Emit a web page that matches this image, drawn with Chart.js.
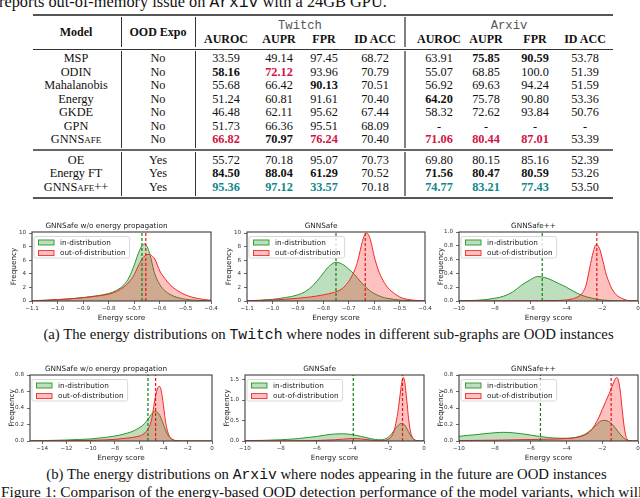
<!DOCTYPE html>
<html><head><meta charset="utf-8">
<script src="https://cdn.jsdelivr.net/npm/chart.js@4.4.1/dist/chart.umd.min.js"></script>
<style>
html,body{margin:0;padding:0;background:#fff;overflow:hidden;width:640px;height:498px;}
#page{position:relative;width:640px;height:498px;overflow:hidden;background:#fff;}
.t{position:absolute;white-space:nowrap;line-height:1;transform:translate(-50%,-50%);font-family:"Liberation Serif","Times New Roman",serif;color:#111;}
.l{transform:translate(0,-50%);}
.mono{font-family:"Liberation Mono","DejaVu Sans Mono",monospace;}
.sc{font-variant:small-caps;}
.rule{position:absolute;}
canvas{position:absolute;}
</style></head><body><div id="page"></div>
<script>
// ---------------- table data ----------------
const models = ['MSP','ODIN','Mahalanobis','Energy','GKDE','GPN','GNNSafe','OE','Energy FT','GNNSafe++'];
const oodExpo = ['No','No','No','No','No','No','No','Yes','Yes','Yes'];
const metricHeaders = ['AUROC','AUPR','FPR','ID ACC'];
const datasetNames = ['Twitch','Arxiv'];
const twitchAUROC = [33.59,58.16,55.68,51.24,46.48,51.73,66.82,55.72,84.50,95.36];
const twitchAUPR  = [49.14,72.12,66.42,60.81,62.11,66.36,70.97,70.18,88.04,97.12];
const twitchFPR   = [97.45,93.96,90.13,91.61,95.62,95.51,76.24,95.07,61.29,33.57];
const twitchIDACC = [68.72,70.79,70.51,70.40,67.44,68.09,70.40,70.73,70.52,70.18];
const arxivAUROC  = [63.91,55.07,56.92,64.20,58.32,null,71.06,69.80,71.56,74.77];
const arxivAUPR   = [75.85,68.85,69.63,75.78,72.62,null,80.44,80.15,80.47,83.21];
const arxivFPR    = [90.59,100.0,94.24,90.80,93.84,null,87.01,85.16,80.59,77.43];
const arxivIDACC  = [53.78,51.39,51.59,53.36,50.76,null,53.39,52.39,53.26,53.50];

// ---------------- density data ----------------
// Twitch, GNNSafe w/o energy propagation
const twNoPropX   = [-1.10,-1.05,-1.00,-0.95,-0.90,-0.85,-0.80,-0.77,-0.74,-0.72,-0.70,-0.69,-0.68,-0.67,-0.66,-0.65,-0.64,-0.63,-0.62,-0.60,-0.58,-0.56,-0.53,-0.50,-0.45,-0.40];
const twNoPropID  = [0.05,0.10,0.20,0.32,0.50,0.75,1.10,1.55,2.40,3.50,5.30,6.40,7.40,8.10,8.40,8.00,7.00,5.50,4.00,2.40,1.50,0.95,0.50,0.25,0.08,0.02];
const twNoPropOOD = [0.05,0.10,0.20,0.32,0.48,0.70,1.00,1.40,2.10,2.80,3.90,4.70,5.50,6.15,6.60,6.85,6.85,6.60,6.20,4.40,3.30,2.40,1.50,0.90,0.35,0.10];
const twNoPropMeans = [-0.670,-0.655];
// Twitch, GNNSafe
const twSafeIDX  = [-1.10,-1.05,-1.00,-0.95,-0.90,-0.87,-0.84,-0.81,-0.78,-0.75,-0.72,-0.70,-0.68,-0.65,-0.62,-0.60,-0.57,-0.55,-0.50,-0.45,-0.40];
const twSafeID   = [0.05,0.10,0.25,0.50,0.90,1.40,2.30,3.60,5.00,5.70,5.30,4.70,4.00,2.70,1.60,1.10,0.60,0.40,0.15,0.05,0.02];
const twSafeOODX = [-1.10,-1.00,-0.90,-0.85,-0.80,-0.76,-0.73,-0.71,-0.69,-0.67,-0.66,-0.65,-0.64,-0.63,-0.62,-0.61,-0.60,-0.58,-0.56,-0.54,-0.52,-0.50,-0.47,-0.44,-0.40];
const twSafeOOD  = [0.05,0.15,0.40,0.60,0.90,1.25,1.70,2.40,3.50,5.20,6.60,8.20,9.50,9.95,9.60,8.30,6.60,4.20,2.70,1.70,1.10,0.60,0.25,0.10,0.03];
const twSafeMeans = [-0.750,-0.635];
// Twitch, GNNSafe++
const twPPIDX  = [-10,-9,-8.5,-8,-7.5,-7,-6.5,-6,-5.6,-5.2,-4.8,-4.4,-4,-3.6,-3.2,-2.8,-2.4,-2,-1.5,-1,0];
const twPPID   = [0.005,0.01,0.02,0.04,0.07,0.13,0.23,0.31,0.355,0.34,0.30,0.25,0.20,0.14,0.09,0.055,0.03,0.015,0.005,0.002,0];
const twPPOODX = [-10,-6,-4.5,-4,-3.6,-3.3,-3.1,-2.9,-2.7,-2.5,-2.33,-2.15,-1.96,-1.77,-1.6,-1.49,-1.21,-0.84,-0.47,0];
const twPPOOD  = [0.002,0.004,0.008,0.015,0.035,0.07,0.12,0.23,0.48,0.71,0.82,0.76,0.58,0.38,0.26,0.19,0.09,0.03,0.005,0.002];
const twPPMeans = [-5.35,-2.3];
// Arxiv, GNNSafe w/o energy propagation
const axNoPropIDX  = [-15,-14,-13,-12,-11,-10,-9,-8,-7.5,-7,-6.5,-6,-5.7,-5.4,-5.1,-4.9,-4.7,-4.5,-4.3,-4.1,-3.9,-3.7,-3.5,-3.2,-3,-2.5,-2,0];
const axNoPropID   = [0.003,0.005,0.008,0.012,0.018,0.025,0.04,0.06,0.075,0.095,0.12,0.16,0.19,0.24,0.30,0.34,0.36,0.35,0.31,0.24,0.16,0.09,0.045,0.015,0.006,0.001,0,0];
const axNoPropOODX = [-15,-12,-10,-8,-7,-6.5,-6,-5.6,-5.3,-5.1,-4.95,-4.8,-4.65,-4.5,-4.4,-4.3,-4.2,-4.1,-4.0,-3.9,-3.8,-3.6,-3.4,-3.2,-3,-2.5,0];
const axNoPropOOD  = [0.001,0.003,0.008,0.02,0.035,0.045,0.06,0.09,0.14,0.20,0.28,0.42,0.55,0.63,0.66,0.66,0.62,0.54,0.43,0.31,0.21,0.09,0.035,0.012,0.004,0,0];
const axNoPropMeans = [-5.28,-4.65];
// Arxiv, GNNSafe
const axSafeIDX  = [-10,-9,-8,-7,-6.5,-6,-5.5,-5,-4.5,-4,-3.5,-3,-2.7,-2.4,-2.2,-2,-1.8,-1.6,-1.4,-1.25,-1.1,-0.95,-0.8,-0.65,-0.5,-0.3,0];
const axSafeID   = [0.01,0.015,0.03,0.06,0.085,0.11,0.145,0.17,0.175,0.155,0.11,0.06,0.035,0.03,0.045,0.09,0.18,0.30,0.40,0.43,0.40,0.30,0.17,0.07,0.02,0.004,0];
const axSafeOODX = [-10,-8,-6,-5,-4.5,-4,-3.5,-3,-2.6,-2.3,-2.0,-1.8,-1.65,-1.5,-1.4,-1.3,-1.22,-1.15,-1.08,-1.0,-0.92,-0.85,-0.75,-0.6,-0.45,-0.3,0];
const axSafeOOD  = [0.002,0.004,0.012,0.03,0.045,0.06,0.05,0.025,0.008,0.01,0.04,0.12,0.28,0.60,0.90,1.25,1.48,1.55,1.45,1.15,0.80,0.50,0.22,0.06,0.012,0.002,0];
const axSafeMeans = [-3.95,-1.2];
// Arxiv, GNNSafe++
const axPPIDX  = [-10,-9.5,-9,-8.5,-8,-7.5,-7,-6.5,-6,-5.5,-5,-4.5,-4,-3.6,-3.2,-2.9,-2.6,-2.3,-2.05,-1.85,-1.6,-1.35,-1.1,-0.9,-0.7,-0.5,-0.3,0];
const axPPID   = [0.057,0.068,0.078,0.09,0.10,0.105,0.10,0.088,0.072,0.055,0.042,0.034,0.033,0.040,0.06,0.09,0.14,0.20,0.245,0.25,0.23,0.18,0.11,0.06,0.02,0.005,0.001,0];
const axPPOODX = [-10,-8,-6,-5,-4,-3.5,-3,-2.7,-2.4,-2.2,-2,-1.8,-1.6,-1.45,-1.3,-1.2,-1.1,-1,-0.9,-0.8,-0.7,-0.6,-0.5,-0.3,0];
const axPPOOD  = [0.005,0.01,0.018,0.022,0.03,0.04,0.07,0.11,0.20,0.28,0.38,0.48,0.58,0.66,0.74,0.77,0.74,0.62,0.42,0.22,0.08,0.02,0.005,0.001,0];
const axPPMeans = [-5.45,-1.5];

// tick labels
const twNarrowTicks = [-1.1,-1.0,-0.9,-0.8,-0.7,-0.6,-0.5,-0.4];
const freqTicks10 = [0,2,4,6,8,10];
const energyTicks10 = [-10,-8,-6,-4,-2,0];
const energyTicks15 = [-14,-12,-10,-8,-6,-4,-2,0];
const freqTicks1 = [0,0.2,0.4,0.6,0.8,1.0];
const freqTicks08 = [0,0.2,0.4,0.6,0.8];
const freqTicks16 = [0,0.5,1.0,1.5];
const plotTitles = ['GNNSafe w/o energy propagation','GNNSafe','GNNSafe++'];
const legendLabels = ['in-distribution','out-of-distribution'];

// ---------------- layout helpers ----------------
const page = document.getElementById('page');
function txt(html, x, y, size, extra, cls) {
  const d = document.createElement('div');
  d.className = 't' + (cls ? ' ' + cls : '');
  d.innerHTML = html;
  d.style.left = x + 'px'; d.style.top = y + 'px'; d.style.fontSize = size + 'px';
  if (extra) Object.assign(d.style, extra);
  page.appendChild(d);
  return d;
}
function rule(x, y, w, h, color) {
  const d = document.createElement('div');
  d.className = 'rule';
  Object.assign(d.style, {left: x + 'px', top: y + 'px', width: w + 'px', height: h + 'px', background: color});
  page.appendChild(d);
}
function fitWidth(el, w) {
  const cur = el.getBoundingClientRect().width;
  const fs = parseFloat(el.style.fontSize);
  el.style.fontSize = (fs * w / cur) + 'px';
}
function modelName(n) {
  if (n.startsWith('GNNSafe')) return 'GNNS<span class="sc">afe</span>' + n.slice(7);
  return n;
}

// ---------------- top text ----------------
const top1 = txt('reports out-of-memory issue on <span class="mono">Arxiv</span> with a 24GB GPU.', -1, 3, 16, null, 'l');
fitWidth(top1, 388);

// ---------------- table ----------------
const TL = 33, TR = 613;
rule(TL, 14, TR - TL, 2, '#555');
rule(TL, 48.5, TR - TL, 1.2, '#333');
rule(TL, 149, TR - TL, 2, '#666');
rule(TL, 196.5, TR - TL, 2, '#555');
const vsegs = [[17, 47], [51, 148], [152, 196]];
[[121, 1, '#333'], [195, 1, '#333'], [404.5, 2, '#808080']].forEach(([x, w, c]) => {
  vsegs.forEach(([a, b]) => rule(x - w / 2, a, w, b - a, c));
});
const colX = [226, 279, 324, 375, 439, 486, 535, 585];
const rowY = [58.3, 71.8, 85.3, 98.8, 112.3, 125.8, 139.3, 159.5, 173, 186.5];
txt('Model', 76, 31.7, 12, {fontWeight: 'bold'});
txt('OOD Expo', 158, 31.7, 12, {fontWeight: 'bold'});
txt(datasetNames[0], 300, 25.5, 12.2, {color: '#555'}, 'mono');
txt(datasetNames[1], 509, 25.5, 12.2, {color: '#555'}, 'mono');
for (let k = 0; k < 8; k++) txt(metricHeaders[k % 4], colX[k], 38.8, 12, {fontWeight: 'bold'});
const cols = [twitchAUROC, twitchAUPR, twitchFPR, twitchIDACC, arxivAUROC, arxivAUPR, arxivFPR, arxivIDACC];
const RED = '#d0153f', TEAL = '#11868a';
// emphasis: [row, column, kind]
const emphasis = [
  [0,5,'b'],[0,6,'b'],
  [1,0,'b'],[1,1,'r'],
  [2,2,'b'],
  [3,4,'b'],
  [6,0,'r'],[6,1,'b'],[6,2,'r'],[6,4,'r'],[6,5,'r'],[6,6,'r'],
  [8,0,'b'],[8,1,'b'],[8,2,'b'],[8,4,'b'],[8,5,'b'],[8,6,'b'],
  [9,0,'t'],[9,1,'t'],[9,2,'t'],[9,4,'t'],[9,5,'t'],[9,6,'t']
];
function fmtVal(v) { if (v === null) return '-'; return v >= 100 ? v.toFixed(1) : v.toFixed(2); }
models.forEach((m, i) => {
  txt(modelName(m), 76, rowY[i], 12.3);
  txt(oodExpo[i], 158, rowY[i], 12.3);
  cols.forEach((col, k) => {
    const e = emphasis.find(z => z[0] === i && z[1] === k);
    const st = {};
    if (e) { st.fontWeight = 'bold'; if (e[2] === 'r') st.color = RED; if (e[2] === 't') st.color = TEAL; }
    txt(fmtVal(col[i]), colX[k], rowY[i], 12.3, st);
  });
});

// ---------------- captions ----------------
const capA = txt('(a) The energy distributions on <span class="mono">Twitch</span> where nodes in different sub-graphs are OOD instances', 328.5, 335, 14.5);
fitWidth(capA, 571);
const capB = txt('(b) The energy distributions on <span class="mono">Arxiv</span> where nodes appearing in the future are OOD instances', 326.5, 475, 14.5);
fitWidth(capB, 561);
const figL = txt('Figure 1: Comparison of the energy-based OOD detection performance of the model variants, which will', 1, 492, 15, null, 'l');
fitWidth(figL, 642);

// ---------------- charts ----------------
const GREEN_LINE = 'rgb(40,150,40)', GREEN_FILL = 'rgba(20,140,20,0.28)', GREEN_DASH = 'rgb(20,125,20)';
const RED_LINE = 'rgb(240,40,40)', RED_FILL = 'rgba(255,30,30,0.28)', RED_DASH = 'rgb(230,20,20)';
const SANS = '"DejaVu Sans", sans-serif';
function zip(xs, ys) { return xs.map((x, i) => ({x: x, y: ys[i]})); }
function fmtTick(v, d) { return (v < 0 ? '\u2212' : '') + Math.abs(v).toFixed(d); }

const frameLegend = {
  id: 'frameLegend',
  afterDatasetsDraw(chart) {
    const {ctx, chartArea: a} = chart;
    ctx.save();
    ctx.strokeStyle = '#3c3c3c'; ctx.lineWidth = 1.1;
    ctx.strokeRect(a.left, a.top, a.right - a.left, a.bottom - a.top);
    const items = chart.data.datasets.filter(d => d.legendIndex !== undefined).sort((p, q) => p.legendIndex - q.legendIndex);
    ctx.font = '7.3px ' + SANS;
    const tw = Math.max(...items.map(d => ctx.measureText(d.label).width));
    const bx = a.left + 2, by = a.top + 4.5, bw = 26 + tw + 4, bh = 21.5;
    ctx.beginPath();
    ctx.roundRect(bx, by, bw, bh, 2);
    ctx.fillStyle = 'rgba(255,255,255,0.8)'; ctx.fill();
    ctx.strokeStyle = '#cfcfcf'; ctx.lineWidth = 0.8; ctx.stroke();
    items.forEach((d, i) => {
      const cy = a.top + 10.5 + i * 10.6;
      ctx.fillStyle = '#fff'; ctx.fillRect(a.left + 6.5, cy - 2.5, 15.5, 5);
      ctx.fillStyle = d.backgroundColor; ctx.fillRect(a.left + 6.5, cy - 2.5, 15.5, 5);
      ctx.strokeStyle = d.borderColor; ctx.lineWidth = 0.9; ctx.strokeRect(a.left + 6.5, cy - 2.5, 15.5, 5);
      ctx.fillStyle = '#222'; ctx.textBaseline = 'middle'; ctx.textAlign = 'left';
      ctx.fillText(d.label, a.left + 28, cy + 0.3);
    });
    ctx.restore();
  }
};

function makePlot(p) {
  const [L, T, R, B] = p.frame;
  const W = R - L + 60, H = B - T + 36;
  const c = document.createElement('canvas');
  c.width = W; c.height = H;
  Object.assign(c.style, {left: (L - 30) + 'px', top: (T - 14) + 'px', width: W + 'px', height: H + 'px'});
  page.appendChild(c);
  const tickFont = {family: SANS, size: 5.6};
  const labFont = {family: SANS, size: 7.3, lineHeight: 1.2};
  new Chart(c, {
    type: 'line',
    data: {datasets: [
      {label: 'id-mean', data: [{x: p.means[0], y: 0}, {x: p.means[0], y: p.ymax}], borderColor: GREEN_DASH, borderDash: [3, 2], borderWidth: 1.2, pointRadius: 0, fill: false, order: 0},
      {label: 'ood-mean', data: [{x: p.means[1], y: 0}, {x: p.means[1], y: p.ymax}], borderColor: RED_DASH, borderDash: [3, 2], borderWidth: 1.2, pointRadius: 0, fill: false, order: 0},
      {label: legendLabels[1], legendIndex: 1, data: zip(p.oodX, p.oodY), borderColor: RED_LINE, backgroundColor: RED_FILL, borderWidth: 1, pointRadius: 0, fill: 'origin', cubicInterpolationMode: 'monotone', order: 1},
      {label: legendLabels[0], legendIndex: 0, data: zip(p.idX, p.idY), borderColor: GREEN_LINE, backgroundColor: GREEN_FILL, borderWidth: 1, pointRadius: 0, fill: 'origin', cubicInterpolationMode: 'monotone', order: 2}
    ]},
    options: {
      responsive: false, animation: false, devicePixelRatio: 1,
      layout: {padding: {left: 0, right: 30, top: 0, bottom: 0}, autoPadding: false},
      plugins: {
        legend: {display: false}, tooltip: {enabled: false},
        title: {display: true, text: p.title, color: '#222', font: {family: SANS, size: 7.3, weight: 'normal', lineHeight: 1.2}, padding: {top: 4.14, bottom: 1.1}}
      },
      scales: {
        x: {
          type: 'linear', min: p.xmin, max: p.xmax,
          afterFit: s => { s.height = 22; },
          afterBuildTicks: s => { s.ticks = p.xticks.map(v => ({value: v})); },
          ticks: {autoSkip: false, maxRotation: 0, minRotation: 0, padding: 1, color: '#333', font: tickFont, callback: v => fmtTick(v, p.xdec)},
          grid: {display: true, drawOnChartArea: false, drawTicks: true, tickLength: 3, color: '#444', lineWidth: 0.8},
          border: {display: false},
          title: {display: true, text: 'Energy score', color: '#222', font: labFont, padding: {top: 0, bottom: 0.6}}
        },
        y: {
          type: 'linear', min: 0, max: p.ymax,
          afterFit: s => { s.width = 30; },
          afterBuildTicks: s => { s.ticks = p.yticks.map(v => ({value: v})); },
          ticks: {autoSkip: false, padding: 3, color: '#333', font: tickFont, callback: v => fmtTick(v, p.ydec)},
          grid: {display: true, drawOnChartArea: false, drawTicks: true, tickLength: 3, color: '#444', lineWidth: 0.8},
          border: {display: false},
          title: {display: true, text: 'Frequency', color: '#222', font: labFont, padding: {top: 8.1, bottom: 0}}
        }
      }
    },
    plugins: [frameLegend]
  });
}

const plots = [
  {frame: [32, 232, 211, 301], title: plotTitles[0], idX: twNoPropX, idY: twNoPropID, oodX: twNoPropX, oodY: twNoPropOOD, means: twNoPropMeans, xmin: -1.1, xmax: -0.4, ymax: 10.15, xticks: twNarrowTicks, yticks: freqTicks10, xdec: 1, ydec: 0},
  {frame: [247, 232, 425, 301], title: plotTitles[1], idX: twSafeIDX, idY: twSafeID, oodX: twSafeOODX, oodY: twSafeOOD, means: twSafeMeans, xmin: -1.1, xmax: -0.4, ymax: 10.15, xticks: twNarrowTicks, yticks: freqTicks10, xdec: 1, ydec: 0},
  {frame: [459, 232, 638, 301], title: plotTitles[2], idX: twPPIDX, idY: twPPID, oodX: twPPOODX, oodY: twPPOOD, means: twPPMeans, xmin: -10, xmax: 0, ymax: 1.0, xticks: energyTicks10, yticks: freqTicks1, xdec: 0, ydec: 1},
  {frame: [30, 375, 212, 441], title: plotTitles[0], idX: axNoPropIDX, idY: axNoPropID, oodX: axNoPropOODX, oodY: axNoPropOOD, means: axNoPropMeans, xmin: -15, xmax: 0, ymax: 0.8, xticks: energyTicks15, yticks: freqTicks08, xdec: 0, ydec: 1},
  {frame: [245, 375, 424, 441], title: plotTitles[1], idX: axSafeIDX, idY: axSafeID, oodX: axSafeOODX, oodY: axSafeOOD, means: axSafeMeans, xmin: -10, xmax: 0, ymax: 1.61, xticks: energyTicks10, yticks: freqTicks16, xdec: 0, ydec: 1},
  {frame: [459, 375, 638, 441], title: plotTitles[2], idX: axPPIDX, idY: axPPID, oodX: axPPOODX, oodY: axPPOOD, means: axPPMeans, xmin: -10, xmax: 0, ymax: 0.8, xticks: energyTicks10, yticks: freqTicks08, xdec: 0, ydec: 1}
];
plots.forEach(makePlot);
</script></body></html>
